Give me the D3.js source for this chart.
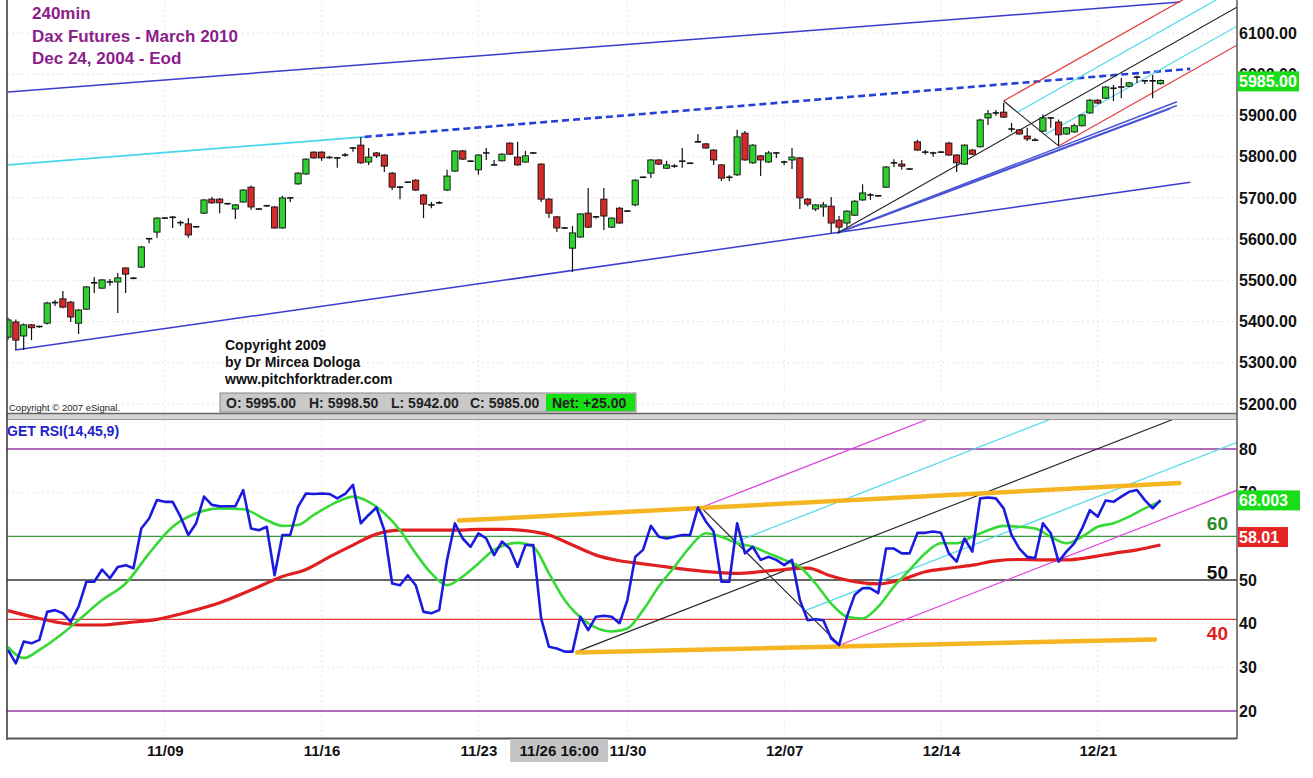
<!DOCTYPE html>
<html>
<head>
<meta charset="utf-8">
<script src="https://cdn.jsdelivr.net/npm/d3@7"></script>
<style>
  body { margin: 0; background: #fff; }
  svg { display: block; font-family: "Liberation Sans", Arial, sans-serif; }
</style>
</head>
<body>
<svg id="chart" width="1313" height="778"></svg>
<script>
// 240 min bars
const opens = [5362,5399,5365,5392,5387,5396,5445,5455,5447,5396,5430,5492,5481,5497,5496,5530,5506,5532,5600,5617,
  5651,5654,5640,5637,5630,5663,5697,5697,5685,5673,5690,5726,5673,5680,5678,5627,5700,5734,5758,5811,
  5811,5797,5797,5804,5821,5828,5787,5809,5804,5760,5727,5738,5743,5707,5683,5688,5719,5765,5814,5789,
  5768,5809,5780,5790,5833,5799,5787,5809,5782,5697,5654,5627,5578,5605,5663,5654,5697,5629,5675,5668,
  5683,5750,5760,5792,5772,5777,5787,5784,5836,5831,5816,5780,5748,5756,5857,5785,5802,5787,5809,5787,
  5792,5797,5697,5673,5678,5680,5646,5639,5658,5695,5707,5705,5726,5785,5782,5770,5836,5811,5809,5811,
  5833,5804,5782,5816,5824,5894,5906,5908,5867,5865,5850,5840,5862,5894,5884,5855,5860,5875,5906,5937,
  5942,5966,5969,5971,5993,5984,5985,5977];
const highs = [5410,5405,5395,5394,5390,5448,5452,5474,5450,5430,5486,5508,5503,5503,5518,5532,5508,5583,5602,5653,
  5653,5656,5645,5651,5632,5697,5702,5700,5687,5685,5721,5730,5675,5682,5680,5705,5702,5762,5796,5813,
  5813,5802,5799,5809,5823,5848,5821,5811,5806,5763,5729,5740,5745,5709,5690,5692,5768,5816,5816,5791,
  5806,5821,5792,5808,5835,5836,5814,5811,5784,5699,5656,5629,5632,5663,5724,5656,5724,5653,5678,5670,
  5745,5752,5794,5794,5790,5782,5821,5786,5855,5833,5818,5782,5755,5865,5862,5830,5804,5814,5811,5790,
  5821,5799,5700,5685,5690,5702,5656,5670,5694,5733,5712,5707,5777,5794,5792,5772,5841,5816,5812,5813,
  5836,5806,5830,5818,5892,5913,5913,5930,5882,5867,5870,5845,5902,5896,5890,5872,5880,5903,5940,5940,
  5971,5974,5991,5981,5996,5986,5998,5987];
const lows = [5355,5331,5331,5355,5385,5393,5438,5432,5399,5370,5428,5469,5479,5487,5421,5469,5503,5530,5590,5603,
  5649,5627,5632,5603,5628,5661,5686,5663,5683,5649,5688,5671,5671,5678,5625,5625,5690,5732,5756,5795,
  5790,5795,5773,5800,5812,5783,5780,5797,5763,5719,5697,5736,5717,5651,5675,5686,5717,5763,5792,5787,
  5756,5792,5779,5788,5804,5778,5785,5807,5690,5651,5617,5625,5520,5603,5627,5650,5622,5627,5637,5666,
  5680,5748,5748,5780,5770,5773,5773,5782,5834,5819,5780,5741,5741,5753,5790,5783,5753,5785,5797,5780,
  5770,5673,5680,5668,5654,5615,5615,5630,5656,5693,5695,5703,5724,5775,5768,5768,5814,5805,5800,5809,
  5802,5763,5780,5804,5822,5877,5899,5894,5860,5853,5838,5838,5860,5870,5826,5853,5858,5873,5904,5928,
  5940,5935,5942,5969,5979,5976,5942,5975];
const closes = [5404,5355,5392,5385,5388,5445,5446,5435,5411,5428,5484,5494,5501,5496,5506,5515,5505,5581,5601,5651,
  5651,5653,5640,5610,5630,5695,5688,5688,5686,5683,5719,5678,5673,5681,5627,5700,5700,5760,5794,5797,
  5797,5798,5797,5804,5821,5785,5799,5802,5777,5726,5726,5738,5719,5685,5683,5688,5753,5814,5794,5789,
  5804,5809,5780,5806,5806,5780,5802,5809,5697,5663,5627,5627,5615,5661,5629,5654,5656,5651,5639,5668,
  5743,5750,5792,5782,5780,5777,5789,5784,5836,5821,5792,5748,5750,5848,5792,5828,5792,5809,5809,5787,
  5799,5700,5685,5683,5683,5639,5629,5668,5692,5712,5707,5705,5775,5785,5777,5770,5816,5811,5809,5811,
  5804,5785,5828,5806,5889,5904,5906,5896,5867,5855,5843,5840,5894,5894,5853,5870,5875,5901,5937,5930,
  5969,5966,5969,5979,5993,5984,5984,5985];

// GET RSI(14,45,9): raw line, one value per bar
const rsiValues = [34.0,30.9,35.9,35.5,36.3,42.7,43.1,42.4,40.4,43.9,
  49.6,49.6,52.4,50.4,53.0,53.4,52.7,61.8,64.1,68.3,
  67.9,67.9,64.5,60.3,63.0,69.1,67.2,66.9,66.9,66.9,
  70.6,61.8,61.4,62.2,51.1,60.3,60.3,66.8,69.8,69.7,
  69.8,69.7,68.7,69.7,71.8,63.0,64.9,66.6,61.4,49.2,
  48.8,51.1,48.8,42.7,42.4,43.1,54.6,63.0,59.5,57.6,
  60.7,59.5,55.7,58.8,57.2,53.0,58.0,58.0,41.2,34.7,
  34.3,33.6,33.6,41.6,38.5,41.6,41.8,41.6,40.1,45.4,
  55.3,56.9,62.4,59.9,59.5,59.9,60.3,60.3,66.6,63.4,
  61.1,49.6,49.6,63.0,56.1,57.6,54.6,55.3,54.6,53.4,
  54.6,45.4,40.8,41.0,40.8,36.6,35.1,41.6,46.6,48.1,
  48.1,47.0,57.2,57.2,56.1,56.1,60.8,60.8,61.1,60.8,
  56.1,54.2,59.5,56.5,68.7,68.9,68.7,66.4,60.3,57.2,
  55.3,55.0,63.0,60.7,54.2,56.5,58.4,61.8,66.0,64.5,
  68.2,67.9,69.1,70.2,70.6,68.3,66.4,68.3];

// green signal line, read at these bars
const signalIdx = [0,2,4,7,9,12,15,18,21,24,27,30,33,35,37,39,42,44,46,48,50,52,54,56,58,60,62,65,67,69,71,74,77,79,
  81,83,85,87,89,91,93,95,97,99,101,103,105,107,109,111,113,115,117,119,121,123,125,127,129,131,133,135,137,139,141,143,145,147];
const signalVal = [34.7,32.1,34.0,37.8,40.8,45.4,49.2,56.1,62.2,65.3,66.4,66.2,63.7,62.4,62.6,64.9,67.9,69.1,67.9,65.3,
  61.4,56.1,51.5,48.8,50.8,53.8,56.9,58.5,57.6,51.5,45.4,40.1,38.2,38.9,43.1,48.5,53.0,57.6,60.7,59.9,
  58.4,57.6,56.1,54.6,53.0,49.2,44.6,41.6,41.2,43.9,48.5,52.3,56.1,58.4,58.4,59.9,61.4,62.4,62.2,61.8,
  59.9,58.4,59.9,62.2,63.0,64.5,66.4,68.003];

// red average line
const avgIdx = [0,3,6,9,12,15,19,23,27,31,35,38,41,44,47,50,53,57,60,63,66,69,72,75,78,81,84,87,90,93,96,99,102,105,
  108,111,114,117,120,123,126,129,132,135,138,141,144,147];
const avgVal = [43.0,41.6,40.4,39.7,39.7,40.2,41.0,42.7,44.8,47.7,50.8,52.4,55.3,58.0,60.5,61.4,61.4,61.4,61.6,61.6,
  61.3,60.3,58.0,55.7,54.4,53.7,53.0,52.3,51.8,51.5,51.9,52.4,52.7,50.9,49.6,49.1,50.1,51.9,52.7,53.4,
  54.4,54.7,54.6,54.6,55.2,56.1,56.9,58.01];

const dateIdx = [20, 40, 60, 79, 99, 119, 139];
const dateLabels = ['11/09', '11/16', '11/23', '11/30', '12/07', '12/14', '12/21'];
const cursorIdx = 70.3;
const cursorLabel = '11/26 16:00';

const priceTicks = d3.range(5200, 6101, 100);
const rsiTicks = [20, 30, 40, 50, 60, 70, 80];

const titleLines = ['240min', 'Dax Futures - March 2010', 'Dec 24, 2004 - Eod'];
const creditLines = ['Copyright 2009', 'by Dr Mircea Dologa', 'www.pitchforktrader.com'];
const quoteItems = ['O: 5995.00', 'H: 5998.50', 'L: 5942.00', 'C: 5985.00'];
const netLabel = 'Net: +25.00';

// hand drawn lines, as [bar, value] pairs
const channelTop = [[0, 5957], [149.5, 6175]];
const channelBottom = [[0.9, 5331], [150.8, 5738]];
const cyanTrend = [[0, 5780], [45.5, 5848]];
const dashedTrend = [[45.5, 5848], [150.8, 6013]];
const fanEnds = [[149.1, 5933], [149.1, 5924], [148.2, 5916]];
const pricePivots = [[105.8, 5615], [127, 5935], [134, 5826]];
const rsiPivots = [[72.6, 33.6], [88.4, 66.6], [106.1, 35.1]];
const orangeTop = [[57.5, 63.6], [149.4, 72.2]];
const orangeBottom = [[72.6, 33.4], [146.3, 36.4]];

const W = 1313, H = 778;
const left = 7, right = 1237;

const x = d3.scaleLinear().domain([0, 147]).range([8, 1160.5]);
const yP = d3.scaleLinear().domain([5200, 6100]).range([404, 33]);
const yR = d3.scaleLinear().domain([20, 80]).range([711, 449]);
const xMax = x.invert(right);

const svg = d3.select('#chart');
svg.append('rect').attr('width', W).attr('height', H).attr('fill', '#fff');

const defs = svg.append('defs');
defs.append('clipPath').attr('id', 'clip-price').append('rect')
    .attr('x', left).attr('y', 0).attr('width', right - left).attr('height', 413);
defs.append('clipPath').attr('id', 'clip-rsi').append('rect')
    .attr('x', left).attr('y', 420).attr('width', right - left).attr('height', 318);

// faint grid
const grid = svg.append('g').attr('stroke', '#e6e6e6').attr('stroke-dasharray', '2,3');
priceTicks.forEach(v => grid.append('line').attr('x1', left).attr('x2', right).attr('y1', yP(v)).attr('y2', yP(v)));
rsiTicks.forEach(v => grid.append('line').attr('x1', left).attr('x2', right).attr('y1', yR(v)).attr('y2', yR(v)));
dateIdx.forEach(d => {
    grid.append('line').attr('x1', x(d)).attr('x2', x(d)).attr('y1', 0).attr('y2', 413);
    grid.append('line').attr('x1', x(d)).attr('x2', x(d)).attr('y1', 420).attr('y2', 738);
});

function seg(g, pts, yScale, color, width, dash) {
    const l = g.append('line')
        .attr('x1', x(pts[0][0])).attr('y1', yScale(pts[0][1]))
        .attr('x2', x(pts[1][0])).attr('y2', yScale(pts[1][1]))
        .attr('stroke', color).attr('stroke-width', width);
    if (dash) l.attr('stroke-dasharray', dash);
    return l;
}

// Andrews pitchfork from three pivots, sides in sideColor, 25%/75% lines in cyan
function pitchfork(g, piv, yScale, sideColor) {
    const [A, B, C] = piv;
    const M = [(B[0] + C[0]) / 2, (B[1] + C[1]) / 2];
    const s = (M[1] - A[1]) / (M[0] - A[0]);
    const ray = P => [P, [xMax + 2, P[1] + s * (xMax + 2 - P[0])]];
    const q = t => [B[0] + t * (C[0] - B[0]), B[1] + t * (C[1] - B[1])];
    seg(g, ray(q(0.25)), yScale, '#4fd8e8', 1.2);
    seg(g, ray(q(0.75)), yScale, '#4fd8e8', 1.2);
    seg(g, ray(B), yScale, sideColor, 1.2);
    seg(g, ray(C), yScale, sideColor, 1.2);
    seg(g, ray(A), yScale, '#222', 1.1);
    seg(g, [B, C], yScale, '#222', 1.1);
}

// ---- price panel
const pg = svg.append('g').attr('clip-path', 'url(#clip-price)');
seg(pg, channelTop, yP, '#3b3bcf', 1.5);
seg(pg, cyanTrend, yP, '#46d6ec', 1.6);
seg(pg, dashedTrend, yP, '#2340d8', 2.6, '7,4');
seg(pg, channelBottom, yP, '#3b3bcf', 1.5);
fanEnds.forEach(e => seg(pg, [pricePivots[0], e], yP, '#4a55d6', 1.6));
pitchfork(pg, pricePivots, yP, '#e03838');

const bars = d3.range(opens.length).map(i => ({ i, o: opens[i], h: highs[i], l: lows[i], c: closes[i] }));
const candles = pg.append('g').selectAll('g').data(bars).join('g');
candles.append('line')
    .attr('x1', d => x(d.i)).attr('x2', d => x(d.i))
    .attr('y1', d => yP(d.h)).attr('y2', d => yP(d.l))
    .attr('stroke', '#111').attr('stroke-width', 1.2);
candles.filter(d => Math.abs(yP(d.o) - yP(d.c)) >= 1.5).append('rect')
    .attr('x', d => x(d.i) - 3.1).attr('width', 6.2)
    .attr('y', d => yP(Math.max(d.o, d.c)))
    .attr('height', d => Math.abs(yP(d.o) - yP(d.c)))
    .attr('fill', d => d.c >= d.o ? '#30d030' : '#d42a2a')
    .attr('stroke', '#111').attr('stroke-width', 0.9);
candles.filter(d => Math.abs(yP(d.o) - yP(d.c)) < 1.5).append('line')
    .attr('x1', d => x(d.i) - 3.2).attr('x2', d => x(d.i) + 3.2)
    .attr('y1', d => yP(d.c)).attr('y2', d => yP(d.c))
    .attr('stroke', '#111').attr('stroke-width', 1.6);

// ---- rsi panel
const rg = svg.append('g').attr('clip-path', 'url(#clip-rsi)');
const levels = [
    { v: 80, color: '#9a3aa8', w: 1.3 },
    { v: 60, color: '#3a9a3a', w: 1.2 },
    { v: 50, color: '#666', w: 2 },
    { v: 41, color: '#e03a3a', w: 1.2 },
    { v: 20, color: '#9a3aa8', w: 1.3 }
];
levels.forEach(d => rg.append('line')
    .attr('x1', left).attr('x2', right).attr('y1', yR(d.v)).attr('y2', yR(d.v))
    .attr('stroke', d.color).attr('stroke-width', d.w));

pitchfork(rg, rsiPivots, yR, '#dd44dd');

seg(rg, orangeTop, yR, '#f5b522', 4.5).attr('stroke-linecap', 'round');
seg(rg, orangeBottom, yR, '#f5b522', 4.5).attr('stroke-linecap', 'round');

const avgLine = d3.line().x((d, i) => x(avgIdx[i])).y(d => yR(d)).curve(d3.curveMonotoneX);
rg.append('path').datum(avgVal).attr('d', avgLine)
    .attr('fill', 'none').attr('stroke', '#e02020').attr('stroke-width', 3.2);

const signalLine = d3.line().x((d, i) => x(signalIdx[i])).y(d => yR(d)).curve(d3.curveMonotoneX);
rg.append('path').datum(signalVal).attr('d', signalLine)
    .attr('fill', 'none').attr('stroke', '#36d936').attr('stroke-width', 2.6);

const rsiLine = d3.line().x((d, i) => x(i)).y(d => yR(d));
rg.append('path').datum(rsiValues).attr('d', rsiLine)
    .attr('fill', 'none').attr('stroke', '#1b1be0').attr('stroke-width', 2.6)
    .attr('stroke-linejoin', 'round');

// level labels inside the panel
const levelText = [
    { t: '60', v: 60, dy: -6, color: '#2a8a2a' },
    { t: '50', v: 50, dy: -1, color: '#111' },
    { t: '40', v: 40, dy: 16, color: '#e02020' }
];
levelText.forEach(d => svg.append('text')
    .attr('x', 1228).attr('y', yR(d.v) + d.dy)
    .attr('text-anchor', 'end').attr('font-size', 19).attr('font-weight', 'bold')
    .attr('fill', d.color).text(d.t));

// ---- frame
svg.append('rect').attr('x', left).attr('y', 413).attr('width', right - left).attr('height', 7)
    .attr('fill', '#d4d4d4');
svg.append('line').attr('x1', left).attr('x2', right).attr('y1', 413.5).attr('y2', 413.5)
    .attr('stroke', '#666').attr('stroke-width', 1.5);
svg.append('line').attr('x1', left).attr('x2', right).attr('y1', 419.5).attr('y2', 419.5)
    .attr('stroke', '#999').attr('stroke-width', 1);
svg.append('line').attr('x1', left).attr('x2', left).attr('y1', 0).attr('y2', 740)
    .attr('stroke', '#333').attr('stroke-width', 1.5);
svg.append('line').attr('x1', right).attr('x2', right).attr('y1', 0).attr('y2', 739)
    .attr('stroke', '#555').attr('stroke-width', 1.5);
svg.append('line').attr('x1', left).attr('x2', right).attr('y1', 738.5).attr('y2', 738.5)
    .attr('stroke', '#555').attr('stroke-width', 1.8);

// ---- axes
const priceAxis = svg.append('g').attr('transform', `translate(${right},0)`)
    .call(d3.axisRight(yP).tickValues(priceTicks).tickFormat(d3.format('.2f')).tickSize(0).tickPadding(2));
priceAxis.select('.domain').remove();
priceAxis.selectAll('text').attr('font-size', 16).attr('font-weight', 'bold').attr('fill', '#111')
    .attr('font-family', '"Liberation Sans", Arial, sans-serif');

const rsiAxis = svg.append('g').attr('transform', `translate(${right},0)`)
    .call(d3.axisRight(yR).tickValues(rsiTicks).tickFormat(d3.format('d')).tickSize(0).tickPadding(2));
rsiAxis.select('.domain').remove();
rsiAxis.selectAll('text').attr('font-size', 16).attr('font-weight', 'bold').attr('fill', '#111')
    .attr('font-family', '"Liberation Sans", Arial, sans-serif');

const dateAxis = svg.append('g').attr('transform', 'translate(0,738)')
    .call(d3.axisBottom(x).tickValues(dateIdx).tickFormat((d, i) => dateLabels[i]).tickSize(0).tickPadding(7));
dateAxis.select('.domain').remove();
dateAxis.selectAll('text').attr('font-size', 15).attr('font-weight', 'bold').attr('fill', '#111')
    .attr('font-family', '"Liberation Sans", Arial, sans-serif');

// cursor date tag
svg.append('rect').attr('x', x(cursorIdx) - 49).attr('y', 739).attr('width', 98).attr('height', 23)
    .attr('fill', '#c4c4c4');
svg.append('text').attr('x', x(cursorIdx)).attr('y', 756).attr('text-anchor', 'middle')
    .attr('font-size', 15).attr('font-weight', 'bold').attr('fill', '#111').text(cursorLabel);

// value tags on the right, drawn over the axis labels they cover
function tag(yPos, w, fill, label) {
    svg.append('rect').attr('x', right + 1).attr('y', yPos - 10).attr('width', w).attr('height', 20).attr('fill', fill);
    svg.append('text').attr('x', right + 2).attr('y', yPos + 6)
        .attr('font-size', 16).attr('font-weight', 'bold').attr('fill', '#fff').text(label);
}
tag(yP(closes[closes.length - 1]) + 1, 61, '#18dd18', d3.format('.2f')(closes[closes.length - 1]));
tag(yR(signalVal[signalVal.length - 1]) - 1, 62, '#18dd18', d3.format('.3f')(signalVal[signalVal.length - 1]));
tag(yR(avgVal[avgVal.length - 1]) - 8, 50, '#e52525', String(avgVal[avgVal.length - 1]));

// ---- texts
svg.append('g').selectAll('text').data(titleLines).join('text')
    .attr('x', 32).attr('y', (d, i) => 19 + i * 22.5)
    .attr('font-size', 17).attr('font-weight', 'bold').attr('fill', '#8c1e8c').text(d => d);

svg.append('g').selectAll('text').data(creditLines).join('text')
    .attr('x', 225).attr('y', (d, i) => 350 + i * 17)
    .attr('font-size', 14).attr('font-weight', 'bold').attr('fill', '#111').text(d => d);

svg.append('text').attr('x', 9).attr('y', 411).attr('font-size', 9.5).attr('fill', '#222')
    .text('Copyright \u00a9 2007 eSignal.');

// quote bar
svg.append('rect').attr('x', 220).attr('y', 393).attr('width', 416).attr('height', 19)
    .attr('fill', '#c9c9c9').attr('stroke', '#8a8a8a').attr('stroke-width', 1);
svg.append('rect').attr('x', 546).attr('y', 394).attr('width', 89).attr('height', 17).attr('fill', '#14e014');
const quoteX = [226, 309, 391, 470];
svg.append('g').selectAll('text').data(quoteItems).join('text')
    .attr('x', (d, i) => quoteX[i]).attr('y', 408)
    .attr('font-size', 14).attr('font-weight', 'bold').attr('fill', '#222').text(d => d);
svg.append('text').attr('x', 552).attr('y', 408).attr('font-size', 14).attr('font-weight', 'bold')
    .attr('fill', '#222').text(netLabel);

svg.append('text').attr('x', 7).attr('y', 436).attr('font-size', 14).attr('font-weight', 'bold')
    .attr('fill', '#2222cc').text('GET RSI(14,45,9)');
</script>
</body>
</html>
